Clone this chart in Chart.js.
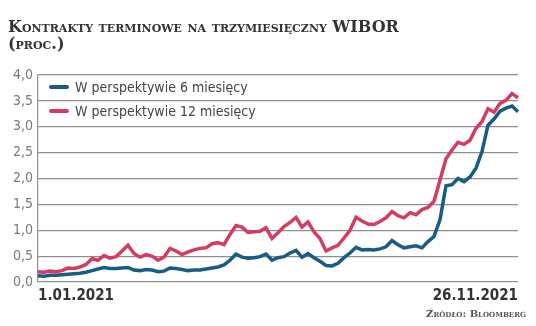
<!DOCTYPE html>
<html>
<head>
<meta charset="utf-8">
<script src="https://cdn.jsdelivr.net/npm/chart.js@4"></script>
<style>
  body { margin: 0; background: #fff; }
  #wrap { position: relative; width: 536px; height: 326px; overflow: hidden; }
  #chart { position: absolute; left: 0; top: 0; }
  .title { position: absolute; left: 8px; font-family: "DejaVu Serif", serif; font-weight: bold;
           font-variant: small-caps; color: #333; font-size: 16px; white-space: nowrap; }
  .legend { position: absolute; left: 49px; font-family: "DejaVu Sans Condensed", "DejaVu Sans", sans-serif;
            font-stretch: condensed; font-size: 14px; color: #444; white-space: nowrap; }
  .legend span { display: inline-block; width: 20px; height: 4px; border-radius: 2px;
                 vertical-align: middle; margin-right: 6px; position: relative; top: -1px; }
  .source { position: absolute; right: 10px; top: 308px; font-family: "DejaVu Serif", serif;
            font-weight: bold; font-variant: small-caps; color: #555; font-size: 10px; }
</style>
</head>
<body>
<div id="wrap">
  <canvas id="chart" width="536" height="326"></canvas>
  <div class="title" style="top:17px">Kontrakty terminowe na trzymiesięczny WIBOR</div>
  <div class="title" style="top:34px">(proc.)</div>
  <div class="legend" style="top:79px"><span style="background:#185c84"></span>W perspektywie 6 miesięcy</div>
  <div class="legend" style="top:103px"><span style="background:#d33d63"></span>W perspektywie 12 miesięcy</div>
  <div class="source">Źródło: Bloomberg</div>
</div>
<script>
// 81 notowań od 1.01.2021 do 26.11.2021
const startDate = new Date(2021, 0, 1);
const endDate = new Date(2021, 10, 26);
const pointCount = 81;

const sixMonths = [
  0.12, 0.11, 0.13, 0.13, 0.14, 0.15, 0.16, 0.17, 0.19, 0.22,
  0.25, 0.28, 0.26, 0.26, 0.27, 0.28, 0.23, 0.22, 0.24, 0.23,
  0.20, 0.21, 0.27, 0.26, 0.24, 0.22, 0.23, 0.23, 0.25, 0.27,
  0.29, 0.33, 0.42, 0.54, 0.48, 0.46, 0.47, 0.49, 0.54, 0.42,
  0.47, 0.49, 0.56, 0.61, 0.48, 0.55, 0.47, 0.40, 0.32, 0.31,
  0.36, 0.47, 0.56, 0.67, 0.62, 0.63, 0.62, 0.64, 0.68, 0.80,
  0.72, 0.66, 0.68, 0.70, 0.66, 0.78, 0.88, 1.20, 1.86, 1.88,
  2.00, 1.94, 2.03, 2.20, 2.52, 3.03, 3.15, 3.30, 3.36, 3.40,
  3.29
];

const twelveMonths = [
  0.20, 0.19, 0.21, 0.20, 0.22, 0.27, 0.26, 0.29, 0.34, 0.45,
  0.42, 0.51, 0.46, 0.49, 0.60, 0.71, 0.55, 0.48, 0.53, 0.50,
  0.42, 0.48, 0.65, 0.60, 0.53, 0.58, 0.62, 0.65, 0.66, 0.74,
  0.76, 0.72, 0.92, 1.09, 1.06, 0.96, 0.97, 0.98, 1.05, 0.84,
  0.95, 1.07, 1.15, 1.25, 1.06, 1.16, 0.97, 0.84, 0.60, 0.66,
  0.71, 0.85, 1.00, 1.25, 1.18, 1.12, 1.11, 1.17, 1.24, 1.36,
  1.28, 1.24, 1.34, 1.30, 1.40, 1.44, 1.56, 1.97, 2.38, 2.55,
  2.70, 2.66, 2.74, 2.97, 3.10, 3.35, 3.28, 3.45, 3.51, 3.64,
  3.56
];

const yTicks = [0, 0.5, 1, 1.5, 2, 2.5, 3, 3.5, 4];

const labels = [];
for (let i = 0; i < pointCount; i++) {
  const d = new Date(startDate.getTime() + (endDate - startDate) * i / (pointCount - 1));
  labels.push(d.getDate() + '.' + String(d.getMonth() + 1).padStart(2, '0') + '.' + d.getFullYear());
}

const gridColor = '#8f8f8f';
const narrow = '"DejaVu Sans Condensed", "DejaVu Sans", sans-serif';

new Chart(document.getElementById('chart'), {
  type: 'line',
  data: {
    labels: labels,
    datasets: [
      {
        label: 'W perspektywie 12 miesięcy',
        data: twelveMonths,
        borderColor: '#d33d63',
        borderWidth: 3.5,
        pointRadius: 0,
        tension: 0
      },
      {
        label: 'W perspektywie 6 miesięcy',
        data: sixMonths,
        borderColor: '#185c84',
        borderWidth: 3.5,
        pointRadius: 0,
        tension: 0
      }
    ]
  },
  options: {
    responsive: false,
    animation: false,
    layout: { padding: { top: 75, right: 18, left: 0, bottom: 0 } },
    plugins: { legend: { display: false }, tooltip: { enabled: false } },
    scales: {
      x: {
        grid: { display: false, drawTicks: false },
        border: { display: false },
        afterFit: s => { s.height = 44; },
        ticks: {
          autoSkip: false,
          maxRotation: 0,
          align: 'inner',
          padding: 5,
          color: '#333',
          font: { family: narrow, size: 15, weight: 'bold' },
          callback: (v, i) => (i === 0 || i === labels.length - 1) ? labels[i] : ''
        }
      },
      y: {
        min: 0,
        max: 4,
        afterFit: s => { s.width = 38; },
        afterBuildTicks: s => { s.ticks = yTicks.map(v => ({ value: v })); },
        grid: { color: gridColor, lineWidth: 1.2, drawTicks: false },
        border: { display: true, color: gridColor, width: 1.2 },
        ticks: {
          padding: 5,
          color: '#7a7a7a',
          font: { family: narrow, size: 14 },
          callback: v => v.toFixed(1).replace('.', ',')
        }
      }
    }
  }
});
</script>
</body>
</html>
